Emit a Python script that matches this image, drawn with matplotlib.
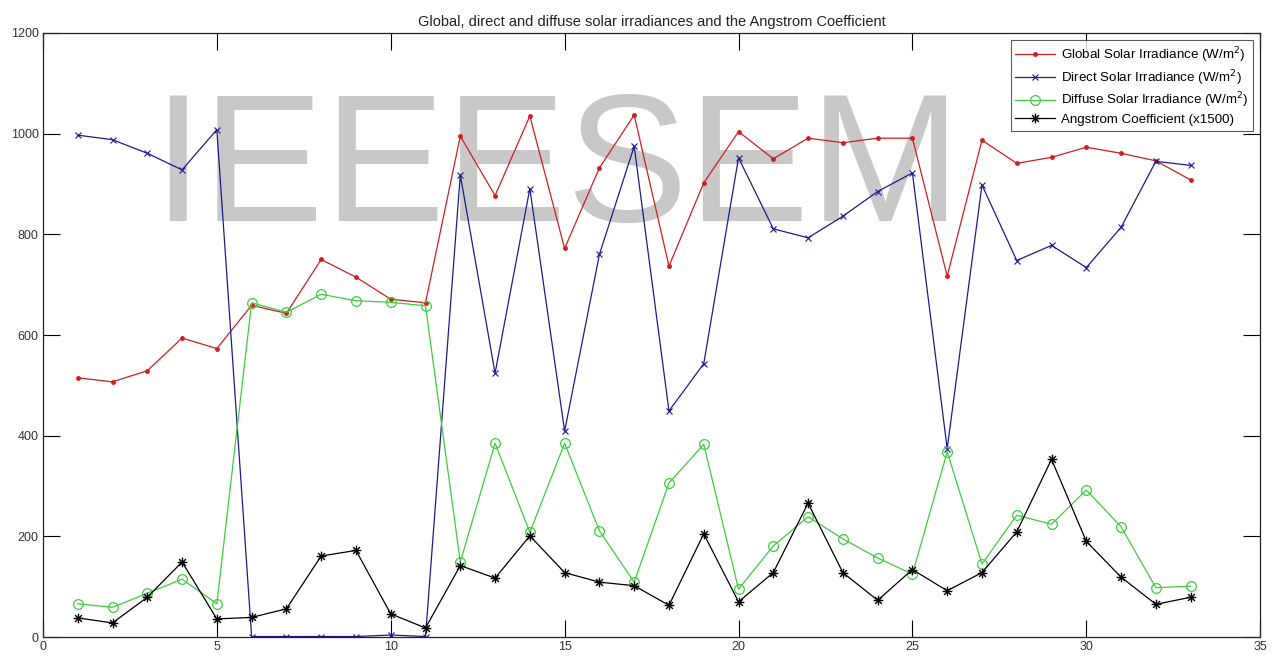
import matplotlib
matplotlib.use("Agg")
import matplotlib.pyplot as plt
from matplotlib.ticker import MultipleLocator
from matplotlib.path import Path

plt.rcParams['font.family'] = ['Liberation Sans', 'DejaVu Sans']

days = list(range(1, 34))
global_irr = [515, 507, 529, 594, 573, 659, 643, 750, 715, 671, 664, 995, 877, 1035, 772, 932, 1037,
              737, 902, 1004, 950, 991, 982, 991, 991, 717, 987, 941, 953, 973, 961, 946, 908]
direct_irr = [997, 988, 961, 928, 1008, 1, 1, 1, 1, 4, 1, 918, 524, 891, 409, 760, 975,
              449, 543, 952, 811, 793, 836, 885, 922, 374, 898, 748, 778, 734, 814, 945, 937]
diffuse_irr = [66, 59, 87, 115, 66, 664, 645, 681, 668, 665, 658, 149, 385, 208, 385, 211, 109,
               306, 383, 95, 181, 239, 195, 157, 125, 368, 145, 242, 224, 292, 219, 98, 101]
angstrom = [38, 28, 79, 149, 36, 39, 56, 161, 172, 46, 18, 142, 117, 201, 128, 109, 102,
            63, 205, 70, 128, 266, 128, 73, 134, 92, 128, 209, 353, 190, 119, 65, 79]

labels = ['Global Solar Irradiance (W/m$^2$)',
          'Direct Solar Irradiance (W/m$^2$)',
          'Diffuse Solar Irradiance (W/m$^2$)',
          'Angstrom Coefficient (x1500)']
title = 'Global, direct and diffuse solar irradiances and the Angstrom Coefficient'

# MATLAB-style asterisk marker (line strokes)
d = 0.7
ast_verts = [(0, -1), (0, 1), (-1, 0), (1, 0), (-d, -d), (d, d), (-d, d), (d, -d)]
ast_codes = [Path.MOVETO, Path.LINETO] * 4
asterisk = Path(ast_verts, ast_codes)

fig = plt.figure(figsize=(12.82, 6.57), dpi=100)
ax = fig.add_axes([0.0335, 0.0304, 0.9495, 0.9194])

ax.text(0.4345, 0.735, 'IEEESEM', fontsize=131, color='#c8c8c8', ha='center', va='center',
        family=['Liberation Sans'], zorder=0.5, transform=fig.transFigure)

lw = 0.9
ax.plot(days, global_irr, color='#cc2020', marker='.', markersize=5, lw=lw, label=labels[0], zorder=2)
ax.plot(days, direct_irr, color='#1c1c90', marker='x', markersize=4, mew=0.8, lw=lw, label=labels[1], zorder=2)
ax.plot(days, diffuse_irr, color='#3fcc3f', marker='o', markersize=7, mfc='none', mew=0.9, lw=lw, label=labels[2], zorder=2)
ax.plot(days, angstrom, color='black', marker=asterisk, markersize=7, mew=1.0, mfc='none',
        lw=lw, label=labels[3], zorder=2)

ax.set_xlim(0, 35)
ax.set_ylim(0, 1200)
ax.xaxis.set_major_locator(MultipleLocator(5))
ax.yaxis.set_major_locator(MultipleLocator(200))
ax.tick_params(direction='in', top=True, right=True, length=12, width=0.8,
               labelsize=9, colors='black', labelcolor='#333333', pad=3)
for s in ax.spines.values():
    s.set_linewidth(0.9)
    s.set_color('#222222')

ax.set_title(title, fontsize=10.5, color='#222222', pad=5)

leg = ax.legend(loc='upper right', fontsize=9.6, frameon=True, fancybox=False,
                edgecolor='#333333', borderaxespad=0.55, handlelength=3.0,
                labelspacing=0.25, borderpad=0.35, handletextpad=0.4)
leg.get_frame().set_linewidth(0.8)
leg.set_zorder(5)

fig.savefig('out.png', dpi=100)
